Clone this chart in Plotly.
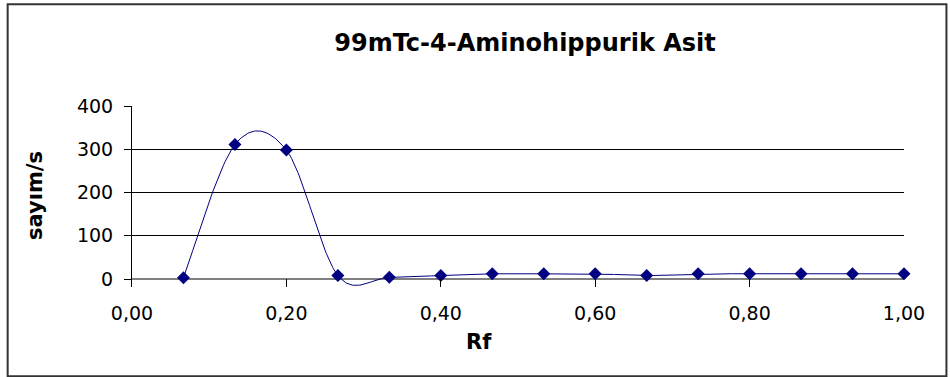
import numpy as np
import plotly.graph_objects as go

# Rf positions of the strip segments and measured counts per second
rf = [1/15, 2/15, 3/15, 4/15, 5/15, 6/15, 7/15, 8/15, 9/15, 10/15,
      11/15, 12/15, 13/15, 14/15, 15/15]
sayim = [3, 311, 298, 8, 4, 8, 12, 12, 12, 8, 12, 12, 12, 12, 12]

x_ticks = [0, 0.2, 0.4, 0.6, 0.8, 1.0]
y_ticks = [0, 100, 200, 300, 400]

W, H = 950, 377
ML, MR, MT, MB = 131.5, 45.5, 105.7, 90.3
PW, PH = W - ML - MR, H - MT - MB

FONT = "DejaVu Sans, Arial, sans-serif"
NAVY = "#000080"


def px_to_paper(px, py):
    return (px - ML) / PW, 1 - (py - MT) / PH


def smooth_curve(xs, ys, steps=40):
    """Cubic Bezier smoothing through every point (Catmull-Rom tangents)."""
    p = np.column_stack([xs, ys]).astype(float)
    ext = np.vstack([p[0], p, p[-1]])
    out = []
    for i in range(len(p) - 1):
        p0, p1, p2, p3 = ext[i], ext[i + 1], ext[i + 2], ext[i + 3]
        c1 = p1 + (p2 - p0) / 6
        c2 = p2 - (p3 - p1) / 6
        t = np.linspace(0, 1, steps, endpoint=(i == len(p) - 2))[:, None]
        seg = ((1 - t) ** 3) * p1 + 3 * ((1 - t) ** 2) * t * c1 \
            + 3 * (1 - t) * t ** 2 * c2 + t ** 3 * p2
        out.append(seg)
    curve = np.vstack(out)
    return curve[:, 0], curve[:, 1]


cx, cy = smooth_curve(rf, sayim)

fig = go.Figure()
fig.add_trace(go.Scatter(
    x=cx, y=cy, mode="lines",
    line=dict(color=NAVY, width=1),
    hoverinfo="skip", showlegend=False,
))
fig.add_trace(go.Scatter(
    x=rf, y=sayim, mode="markers",
    marker=dict(symbol="diamond", size=10, color=NAVY),
    cliponaxis=False, showlegend=False,
))

# chart frame
bx0, by0 = px_to_paper(7, 4)
bx1, by1 = px_to_paper(947, 376)
fig.add_shape(type="rect", xref="paper", yref="paper",
              x0=bx0, y0=by1, x1=bx1, y1=by0,
              line=dict(color="#333333", width=2), layer="below")

tx, ty = px_to_paper(35, 195)
rx, ry = px_to_paper(479, 342)
fig.add_annotation(text="<b>sayım/s</b>", xref="paper", yref="paper",
                   x=tx, y=ty, xanchor="center", yanchor="middle",
                   showarrow=False, textangle=-90,
                   font=dict(family=FONT, size=21, color="black"))
fig.add_annotation(text="<b>Rf</b>", xref="paper", yref="paper",
                   x=rx, y=ry, xanchor="center", yanchor="middle",
                   showarrow=False,
                   font=dict(family=FONT, size=21, color="black"))

fig.update_layout(
    width=W, height=H,
    margin=dict(l=ML, r=MR, t=MT, b=MB, pad=0),
    paper_bgcolor="white", plot_bgcolor="white",
    separators=", ",
    title=dict(text="<b>99mTc-4-Aminohippurik Asit</b>",
               xref="container", yref="container",
               x=525 / W, y=1 - 43 / H, xanchor="center", yanchor="middle",
               font=dict(family=FONT, size=24, color="black")),
    font=dict(family=FONT, size=19, color="black"),
    xaxis=dict(range=[0, 1], tickvals=x_ticks, tickformat=".2f",
               showgrid=False, zeroline=False, showline=False,
               ticks="inside", ticklen=8, tickcolor="black", tickwidth=1,
               ticklabelstandoff=13,
               tickfont=dict(family=FONT, size=19, color="black")),
    yaxis=dict(range=[-18.5, 400], tickvals=y_ticks,
               showgrid=True, gridcolor="black", gridwidth=1,
               zeroline=True, zerolinecolor="#808080", zerolinewidth=2,
               showline=True, linecolor="black", linewidth=1,
               ticks="outside", ticklen=7, tickcolor="black", tickwidth=1,
               ticklabelstandoff=7,
               tickfont=dict(family=FONT, size=19, color="black")),
)

fig.write_html("out.html")
